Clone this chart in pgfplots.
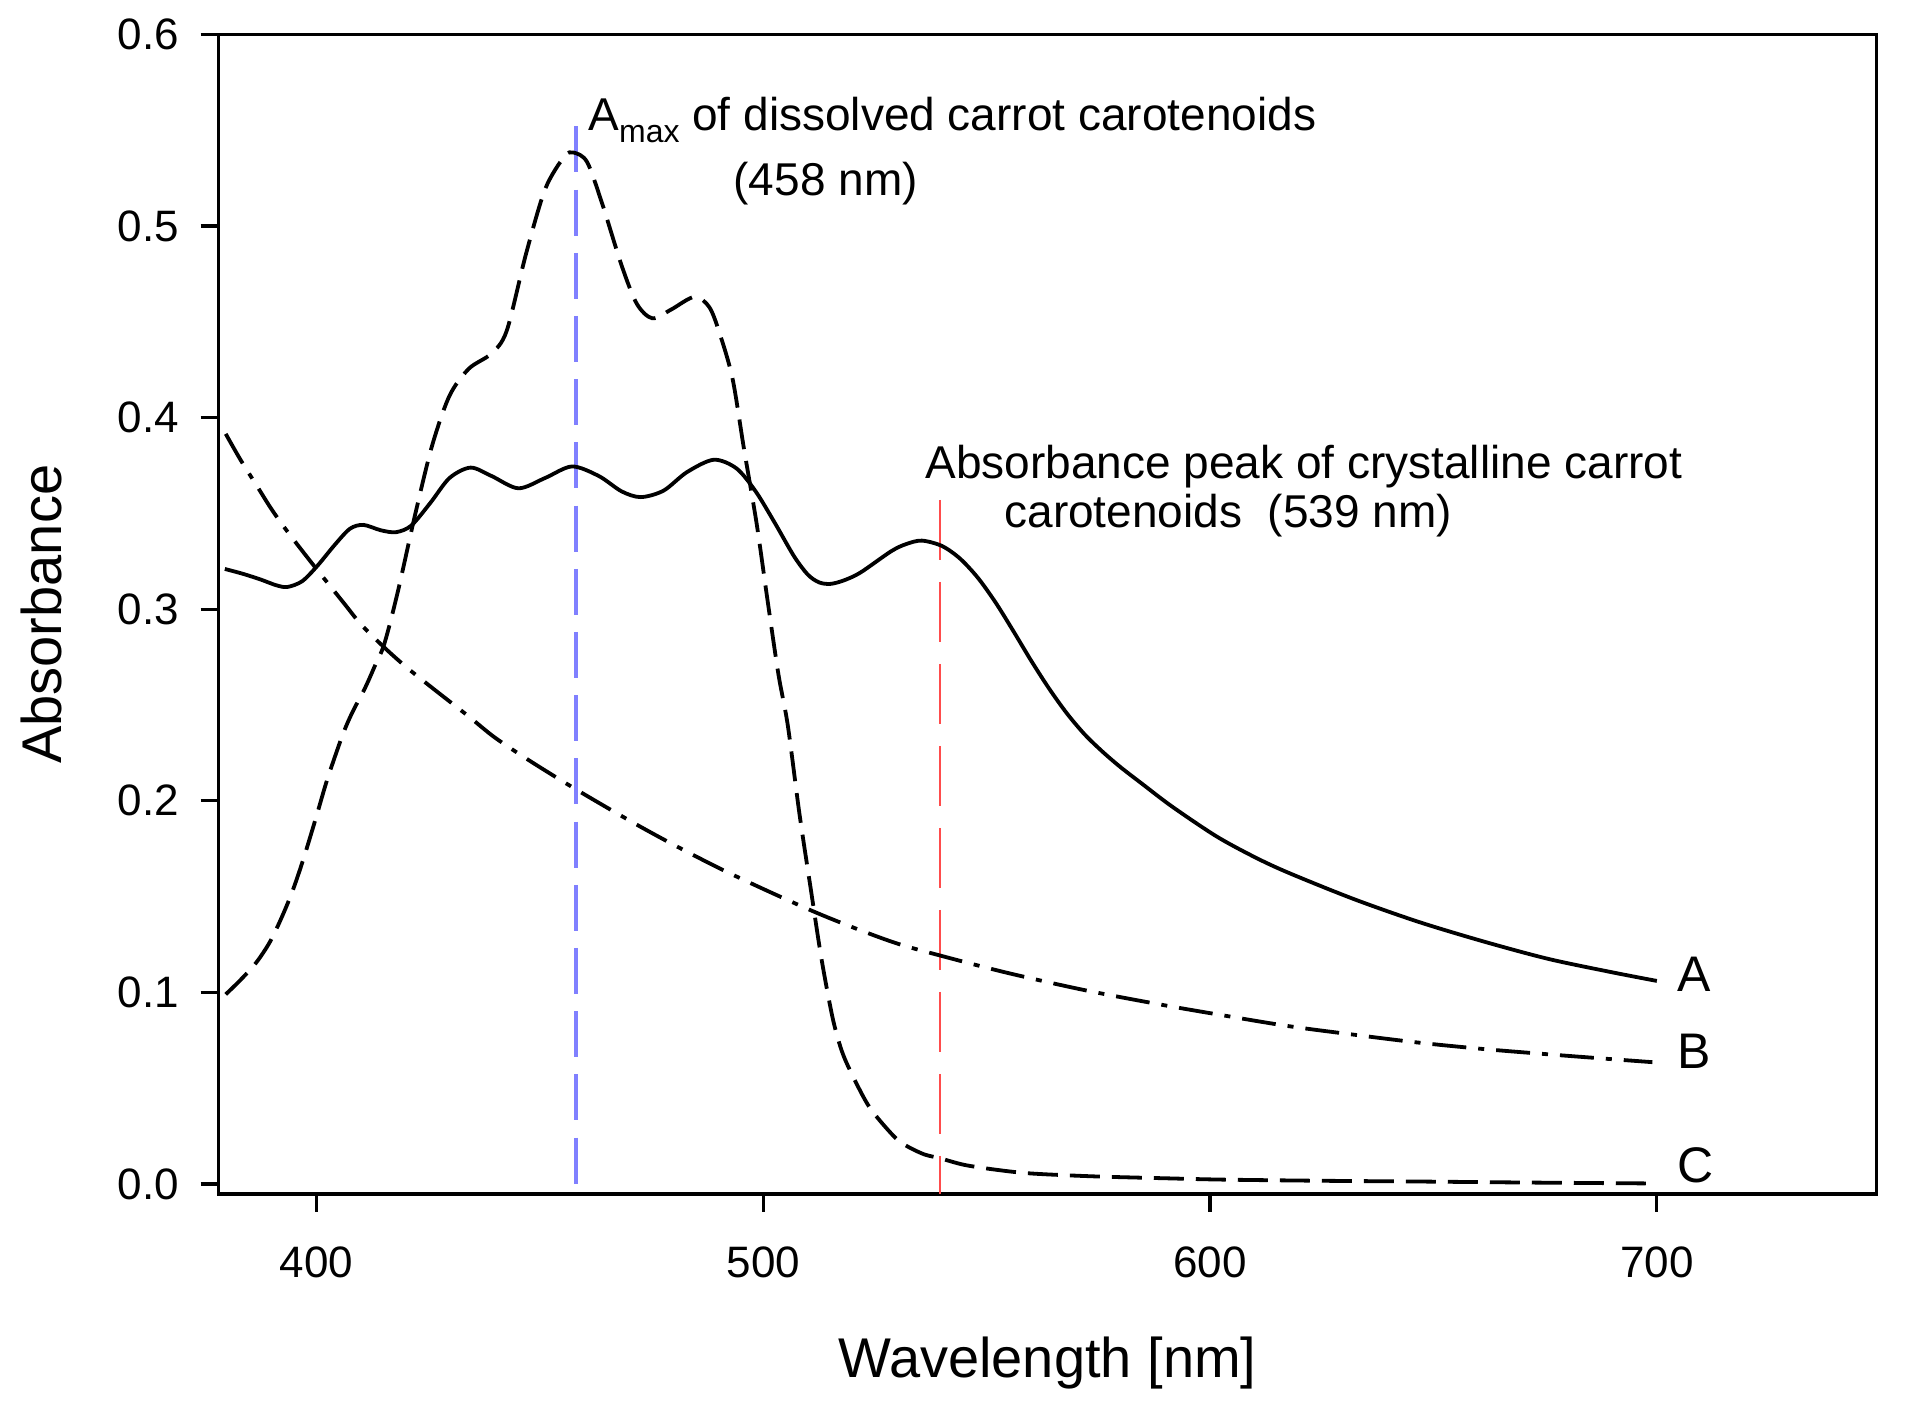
\documentclass[border=0pt]{standalone}
\usepackage{fontspec}
\setmainfont{Liberation Sans}
\usepackage{pgfplots}
\pgfplotsset{compat=1.18}
\begin{document}
\begin{tikzpicture}
\useasboundingbox (-54.65pt,-57.25pt) rectangle (424.6pt,298.5pt);
\begin{axis}[
  scale only axis, width=414.4pt, height=289.9pt,
  at={(0,0)}, anchor=south west,
  xmin=378.1, xmax=749.1, ymin=-0.0052, ymax=0.6,
  axis line style={line width=0.8pt},
  tick style={line width=0.8pt, black},
  tick align=outside, tick pos=left,
  major tick length=4.5pt,
  xtick={400,500,600,700},
  ytick={0,0.1,0.2,0.3,0.4,0.5,0.6},
  minor tick num=0,
  /pgf/number format/assume math mode=true,
  yticklabel={\pgfmathprintnumber[fixed,fixed zerofill,precision=1]{\tick}},
  xticklabel style={font=\fontsize{11}{13}\selectfont, anchor=north, inner sep=0pt, yshift=-8.5pt},
  yticklabel style={font=\fontsize{11}{13}\selectfont, anchor=east, inner sep=0pt, xshift=-5.2pt},
  clip=false,
]
% reference lines
\addplot[blue!50, line width=1pt, dash pattern=on 11.5pt off 4.3pt] coordinates {(458,0.552) (458,-0.0052)};
\addplot[red!70, line width=0.6pt, dash pattern=on 15pt off 5.5pt] coordinates {(539.6,0.357) (539.6,-0.0052)};

% Curve A (solid)
\addplot[black, line width=0.95pt, smooth] coordinates {
(379.5,0.321) (383.5,0.3185) (387.5,0.3155) (391,0.3125) (393.5,0.3116) (396.8,0.3146)
(400.2,0.3226) (404.1,0.3336) (407.5,0.342) (410.5,0.344) (414.4,0.3412) (417.8,0.3402)
(421.2,0.3436) (425.5,0.3555) (429.8,0.3685) (434.5,0.3739) (439.2,0.3695) (445.2,0.3631)
(451.2,0.3685) (457.2,0.3745) (463.2,0.3695) (468.3,0.3615) (472.6,0.3585) (477.7,0.3619)
(482.9,0.3715) (488.9,0.3780) (494.0,0.3735) (498.3,0.3615) (502.6,0.3450) (506.9,0.3276)
(510,0.318) (512.5,0.3140) (515,0.3132) (518,0.3150) (521.8,0.3192) (528.6,0.3302)
(532,0.3340) (535.5,0.3358) (540,0.3330) (544,0.3265) (548,0.3165) (552,0.3035)
(556,0.2885) (560,0.2730) (564,0.2585) (568,0.2455) (572,0.2345) (576,0.2255)
(580,0.2175) (585,0.2085) (591.5,0.1970) (601.4,0.1815) (610,0.1706) (617.6,0.1624)
(632.2,0.1487) (646.7,0.1368) (661.2,0.1266) (675.7,0.1175) (690,0.1105) (700,0.106)
};

% Curve B (dash-dot)
\addplot[black, line width=0.95pt, smooth, dash pattern=on 8.5pt off 3pt on 1.5pt off 3pt] coordinates {
(379.7,0.3915) (383,0.378) (386.9,0.3635) (390,0.352) (393.8,0.3396) (399.8,0.3216)
(406.2,0.303) (410,0.292) (415.2,0.280) (420,0.270) (425.5,0.2597) (434.1,0.2440)
(440,0.2329) (448,0.2205) (457,0.2075) (465,0.1965) (472.5,0.1865) (480,0.1770)
(490,0.1650) (500,0.1540) (511,0.1425) (520,0.1340) (530,0.1255) (540,0.1190)
(554.3,0.1104) (571.5,0.1014) (588.6,0.0938) (603,0.0880) (617.6,0.0824) (632,0.0780)
(646.7,0.0738) (661,0.0705) (675.7,0.0677) (688,0.0655) (699,0.0636)
};

% Curve C (dashed)
\addplot[black, line width=0.95pt, smooth, dash pattern=on 7.5pt off 3pt] coordinates {
(379.7,0.099) (383,0.1065) (386.5,0.1155) (389.5,0.126) (392,0.138) (394.5,0.152)
(397,0.169) (400,0.192) (402.4,0.211) (405.8,0.234) (408,0.246) (410.9,0.259) (413,0.270)
(415.2,0.282) (418.2,0.309) (422.1,0.3495) (425.9,0.3855) (429.8,0.4115) (434.1,0.4255)
(439.2,0.4335) (442.6,0.4454) (446.9,0.4854) (451.2,0.5193) (455.5,0.5363) (457.6,0.5383)
(460.6,0.5333) (464.0,0.5113) (468.3,0.4794) (471.7,0.4594) (475.2,0.4518) (479.4,0.4564)
(484.6,0.4630) (488.0,0.4574) (490.6,0.4414) (493.2,0.4195) (495.7,0.3835) (498.5,0.345)
(501,0.304) (503.4,0.266) (505.5,0.2393) (508.1,0.1933) (510.7,0.153) (513,0.118)
(515.5,0.087) (517.5,0.070) (519.7,0.058) (523.8,0.040) (529.2,0.025) (532,0.020)
(536,0.0155) (539.5,0.0135) (545,0.010) (552.3,0.0074) (560,0.0055) (574,0.0040)
(590,0.0030) (603,0.0023) (625,0.0017) (647,0.0013) (670,0.0008) (699,0.0003)
};

% annotations
\node[anchor=base west, inner sep=0pt, font=\fontsize{11.5}{13}\selectfont] at (axis cs:460.7,0.5496)
  {A\raisebox{-2.85pt}{\fontsize{8}{8}\selectfont max} of dissolved carrot carotenoids};
\node[anchor=base west, inner sep=0pt, font=\fontsize{11.5}{13}\selectfont] at (axis cs:493.2,0.516) {(458 nm)};
\node[anchor=base west, inner sep=0pt, font=\fontsize{11.5}{13}\selectfont] at (axis cs:536.1,0.3683) {Absorbance peak of crystalline carrot};
\node[anchor=base west, inner sep=0pt, font=\fontsize{11.5}{13}\selectfont] at (axis cs:553.8,0.3429) {carotenoids\ \ (539 nm)};

\node[anchor=west, inner sep=0pt, font=\fontsize{12.5}{14}\selectfont] at (axis cs:704.5,0.1096) {A};
\node[anchor=west, inner sep=0pt, font=\fontsize{12.5}{14}\selectfont] at (axis cs:704.5,0.0694) {B};
\node[anchor=west, inner sep=0pt, font=\fontsize{12.5}{14}\selectfont] at (axis cs:704.5,0.0099) {C};

% axis labels
\node[anchor=base, inner sep=0pt, font=\fontsize{14}{16}\selectfont] at ([yshift=-45.9pt]axis description cs:0.5,0) {Wavelength [nm]};
\node[anchor=base, rotate=90, inner sep=0pt, font=\fontsize{14}{16}\selectfont] at ([xshift=-39.35pt]axis description cs:0,0.5) {Absorbance};
\end{axis}
\end{tikzpicture}
\end{document}
